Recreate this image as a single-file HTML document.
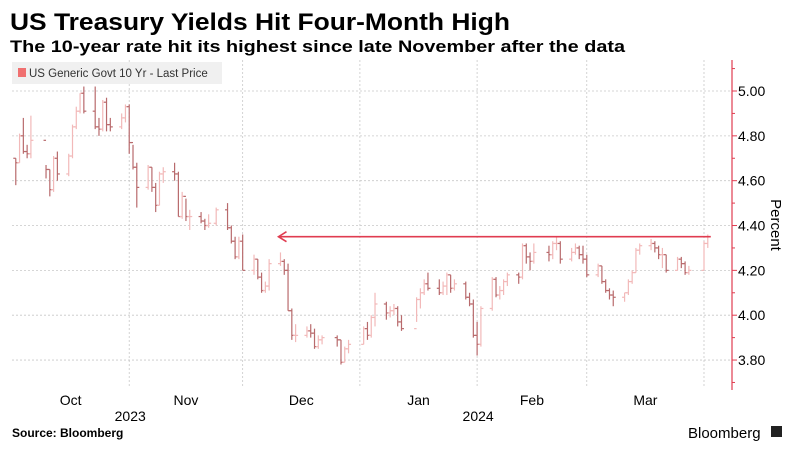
<!DOCTYPE html>
<html><head><meta charset="utf-8"><style>
html,body{margin:0;padding:0;background:#fff;}
svg{display:block;font-family:"Liberation Sans",sans-serif;}
</style></head><body>
<svg id="chart" width="805" height="450" viewBox="0 0 805 450">
<text x="10" y="30" font-size="24" font-weight="bold" fill="#000" textLength="500" lengthAdjust="spacingAndGlyphs">US Treasury Yields Hit Four-Month High</text>
<text x="10" y="52" font-size="17" font-weight="bold" fill="#000" textLength="615" lengthAdjust="spacingAndGlyphs">The 10-year rate hit its highest since late November after the data</text>
<g id="grid"></g>
<g id="bars"></g>
<g id="ref"></g>
<g id="yaxis"></g>
<g id="xaxis"></g>
<rect x="12" y="62" width="210" height="22" fill="#f0f0f0"/>
<rect x="18" y="68" width="8" height="9" fill="#f07070"/>
<text x="29" y="77" font-size="11.5" fill="#333">US Generic Govt 10 Yr - Last Price</text>
<text transform="translate(771,225) rotate(90)" font-size="15" fill="#000" text-anchor="middle">Percent</text>
<text x="12" y="437" font-size="12" font-weight="bold" fill="#000">Source: Bloomberg</text>
<text x="688" y="438" font-size="15" fill="#000">Bloomberg</text>
<rect x="771" y="426" width="11" height="11" fill="#222"/>
</svg>
<script>
const dates=["2023-10-02","2023-10-03","2023-10-04","2023-10-05","2023-10-06","2023-10-10","2023-10-11","2023-10-12","2023-10-13","2023-10-16","2023-10-17","2023-10-18","2023-10-19","2023-10-20","2023-10-23","2023-10-24","2023-10-25","2023-10-26","2023-10-27","2023-10-30","2023-10-31","2023-11-01","2023-11-02","2023-11-03","2023-11-06","2023-11-07","2023-11-08","2023-11-09","2023-11-10","2023-11-13","2023-11-14","2023-11-15","2023-11-16","2023-11-17","2023-11-20","2023-11-21","2023-11-22","2023-11-24","2023-11-27","2023-11-28","2023-11-29","2023-11-30","2023-12-01","2023-12-04","2023-12-05","2023-12-06","2023-12-07","2023-12-08","2023-12-11","2023-12-12","2023-12-13","2023-12-14","2023-12-15","2023-12-18","2023-12-19","2023-12-20","2023-12-21","2023-12-22","2023-12-26","2023-12-27","2023-12-28","2023-12-29","2024-01-02","2024-01-03","2024-01-04","2024-01-05","2024-01-08","2024-01-09","2024-01-10","2024-01-11","2024-01-12","2024-01-16","2024-01-17","2024-01-18","2024-01-19","2024-01-22","2024-01-23","2024-01-24","2024-01-25","2024-01-26","2024-01-29","2024-01-30","2024-01-31","2024-02-01","2024-02-02","2024-02-05","2024-02-06","2024-02-07","2024-02-08","2024-02-09","2024-02-12","2024-02-13","2024-02-14","2024-02-15","2024-02-16","2024-02-20","2024-02-21","2024-02-22","2024-02-23","2024-02-26","2024-02-27","2024-02-28","2024-02-29","2024-03-01","2024-03-04","2024-03-05","2024-03-06","2024-03-07","2024-03-08","2024-03-11","2024-03-12","2024-03-13","2024-03-14","2024-03-15","2024-03-18","2024-03-19","2024-03-20","2024-03-21","2024-03-22","2024-03-25","2024-03-26","2024-03-27","2024-03-28","2024-04-01","2024-04-02"];
const closes=[4.68,4.80,4.73,4.72,4.78,4.65,4.56,4.70,4.63,4.71,4.84,4.91,4.99,4.91,4.84,4.83,4.95,4.85,4.84,4.88,4.93,4.77,4.66,4.57,4.66,4.57,4.49,4.63,4.64,4.63,4.44,4.53,4.44,4.44,4.42,4.40,4.41,4.47,4.39,4.33,4.26,4.33,4.20,4.25,4.17,4.11,4.13,4.23,4.24,4.20,4.02,3.91,3.91,3.93,3.92,3.86,3.89,3.90,3.89,3.79,3.85,3.87,3.94,3.91,3.99,4.05,4.01,4.02,4.03,3.97,3.94,4.07,4.10,4.14,4.12,4.10,4.13,4.18,4.12,4.14,4.08,4.05,3.91,3.87,4.03,4.16,4.09,4.11,4.15,4.18,4.17,4.31,4.26,4.24,4.28,4.27,4.32,4.32,4.25,4.28,4.30,4.27,4.25,4.18,4.22,4.15,4.11,4.09,4.08,4.10,4.15,4.19,4.29,4.31,4.32,4.30,4.27,4.27,4.20,4.25,4.23,4.19,4.20,4.32,4.35];
const highs=[4.70,4.81,4.88,4.76,4.89,4.67,4.65,4.71,4.73,4.72,4.85,4.93,4.99,5.02,5.02,4.88,4.96,4.97,4.88,4.90,4.94,4.94,4.76,4.68,4.67,4.66,4.59,4.64,4.66,4.68,4.64,4.55,4.52,4.47,4.46,4.43,4.45,4.48,4.50,4.40,4.35,4.35,4.36,4.27,4.25,4.19,4.15,4.25,4.28,4.25,4.23,4.03,3.96,3.95,3.96,3.94,3.91,3.91,3.91,3.89,3.86,3.89,3.95,3.97,4.00,4.10,4.06,4.04,4.05,4.04,4.00,4.08,4.12,4.16,4.19,4.16,4.15,4.19,4.18,4.16,4.15,4.10,4.07,3.97,4.04,4.17,4.17,4.13,4.16,4.19,4.19,4.32,4.32,4.28,4.32,4.31,4.33,4.35,4.33,4.30,4.32,4.31,4.31,4.27,4.23,4.22,4.16,4.12,4.11,4.10,4.16,4.20,4.30,4.32,4.34,4.33,4.31,4.30,4.27,4.26,4.26,4.24,4.22,4.33,4.36];
const lows=[4.58,4.68,4.72,4.70,4.70,4.61,4.53,4.55,4.60,4.62,4.70,4.83,4.90,4.90,4.83,4.80,4.82,4.82,4.82,4.83,4.86,4.72,4.65,4.48,4.56,4.55,4.46,4.49,4.59,4.60,4.44,4.43,4.42,4.38,4.41,4.38,4.39,4.40,4.38,4.32,4.25,4.25,4.20,4.18,4.16,4.10,4.10,4.11,4.22,4.18,4.02,3.89,3.88,3.90,3.90,3.85,3.85,3.87,3.86,3.78,3.79,3.83,3.87,3.89,3.90,3.95,3.98,3.99,4.00,3.95,3.93,3.97,4.03,4.09,4.11,4.09,4.09,4.09,4.10,4.11,4.07,4.04,3.90,3.82,3.86,4.02,4.08,4.07,4.09,4.13,4.14,4.16,4.23,4.20,4.23,4.24,4.25,4.29,4.23,4.24,4.27,4.25,4.23,4.17,4.17,4.14,4.10,4.07,4.04,4.06,4.09,4.14,4.19,4.27,4.29,4.28,4.25,4.21,4.19,4.20,4.21,4.18,4.18,4.20,4.30];
const yTicks=[3.80,4.00,4.20,4.40,4.60,4.80,5.00];
const yTickLabels=["3.80","4.00","4.20","4.40","4.60","4.80","5.00"];
const monthStarts=["2023-10-01","2023-11-01","2023-12-01","2024-01-01","2024-02-01","2024-03-01","2024-04-01"];
const monthLabels=["Oct","Nov","Dec","Jan","Feb","Mar"];
const yearLabels=["2023","2024"];
const yearCenters=["2023-11-01","2024-02-01"];
const refValue=[4.35];
const refStart=["2023-12-11"];

const NS="http://www.w3.org/2000/svg";
const X0=Date.UTC(2023,9,1), X1=Date.UTC(2024,3,1), PX0=12, PX1=704;
function tsOf(s){const p=s.split("-");return Date.UTC(+p[0],+p[1]-1,+p[2]);}
function xScale(s){return PX0+(tsOf(s)-X0)/(X1-X0)*(PX1-PX0);}
function yScale(v){return 91+(5.0-v)*224.2;}
function mk(tag,attrs,parent){const e=document.createElementNS(NS,tag);for(const k in attrs)e.setAttribute(k,attrs[k]);parent.appendChild(e);return e;}
const grid=document.getElementById("grid"),bars=document.getElementById("bars"),ya=document.getElementById("yaxis"),xa=document.getElementById("xaxis"),ref=document.getElementById("ref");

yTicks.forEach((v,i)=>{
  const y=yScale(v);
  const g=mk("line",{x1:12,x2:732,y1:y,y2:y,stroke:"#c8c8c8","stroke-width":0.8,"stroke-dasharray":"2,2"},grid);
  
  
  const t=mk("line",{x1:732,x2:737,y1:y,y2:y,stroke:"#e03c50","stroke-width":1},ya);
  
  
  const tx=mk("text",{x:738,y:y+5,"font-size":14,fill:"#000"},ya);
  tx.textContent=yTickLabels[i];
  
  
});
for(let v=3.7;v<=5.15;v+=0.2){
  const y=yScale(v);
  const t=mk("line",{x1:732,x2:735,y1:y,y2:y,stroke:"#e03c50","stroke-width":1},ya);
  
  
}
const ax=mk("line",{x1:732,x2:732,y1:60,y2:390,stroke:"#e03c50","stroke-width":1.2},ya);



monthStarts.forEach((d,i)=>{
  const x=xScale(d);
  if(i>0){
    const g=mk("line",{x1:x,x2:x,y1:60,y2:388,stroke:"#c8c8c8","stroke-width":0.8,"stroke-dasharray":"2,2"},grid);
    
    
  }
  if(i<monthLabels.length){
    const xm=(x+xScale(monthStarts[i+1]))/2;
    const t=mk("text",{x:xm,y:405,"font-size":14,fill:"#000","text-anchor":"middle"},xa);
    t.textContent=monthLabels[i];
    
    
  }
});
yearLabels.forEach((yl,i)=>{
  const t=mk("text",{x:xScale(yearCenters[i])+1,y:421,"font-size":14,fill:"#000","text-anchor":"middle"},xa);
  t.textContent=yl;
  
  
});

let prev=closes[0];
dates.forEach((d,i)=>{
  const x=xScale(d), c=closes[i], o=i===0?closes[0]+0.02:prev;
  const col=c<o?"#b86a6c":"#f2b9b9";
  const g=mk("g",{stroke:col,"stroke-width":1.2},bars);
  
  
  mk("line",{x1:x,x2:x,y1:yScale(highs[i]),y2:yScale(lows[i])},g);
  mk("line",{x1:x-2.5,x2:x,y1:yScale(o),y2:yScale(o)},g);
  mk("line",{x1:x,x2:x+2.5,y1:yScale(c),y2:yScale(c)},g);
  prev=c;
});

const ry=yScale(refValue[0]), rx0=xScale(refStart[0])-2, rx1=xScale(dates[dates.length-1])+3;
const rl=mk("line",{x1:rx0,x2:rx1,y1:ry,y2:ry,stroke:"#e03c50","stroke-width":1.6},ref);


const ah=mk("polyline",{points:(rx0+8)+","+(ry-5)+" "+rx0+","+ry+" "+(rx0+8)+","+(ry+5),fill:"none",stroke:"#e03c50","stroke-width":1.6},ref);


</script>
</body></html>
